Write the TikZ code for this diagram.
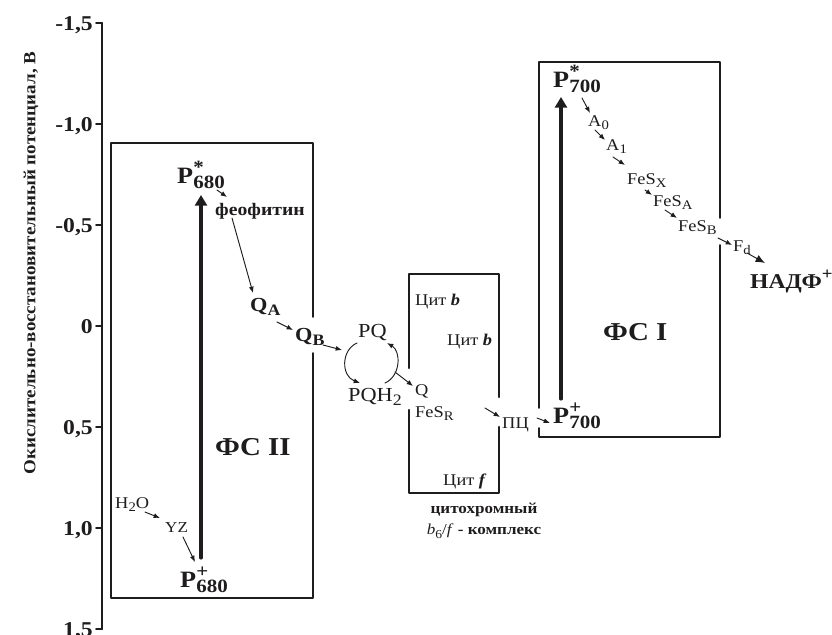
\documentclass[tikz,border=0pt]{standalone}
\usepackage{fontspec}
\setmainfont[FakeStretch=1.12]{Liberation Serif}
\usetikzlibrary{arrows.meta}

\makeatletter
\newcommand{\sbs}[1]{\raisebox{-0.22em}{\fontsize{\fpeval{0.8*\f@size}}{1}\selectfont #1}}
\newcommand{\sps}[1]{\raisebox{0.42em}{\fontsize{\fpeval{0.8*\f@size}}{1}\selectfont #1}}
\makeatother
\newcommand{\pig}[3]{#1\rlap{\sps{#2}}\sbs{#3}}

\begin{document}
\begin{tikzpicture}[
    >=Latex,
    line cap=round,
    line join=round,
    x=0.3mm,
    y=-0.3mm
]

% =========================================================
% Colors
% =========================================================
\definecolor{ink}{RGB}{30,28,29}

% =========================================================
% Styles
% =========================================================
\tikzset{
    boxline/.style={ink,line width=1.6pt},
    cytline/.style={ink,line width=2.0pt},
    axisline/.style={ink,line width=1.7pt},
    pump/.style={ink,line width=2.6pt,-{Triangle[length=3.2mm,width=3.6mm]}},
    etr/.style={ink,line width=0.8pt,-{Latex[length=1.9mm,width=1.5mm]}},
    lbl/.style={inner sep=0pt,anchor=base west,text=ink},
    pigm/.style={lbl,font=\fontsize{20}{20}\selectfont\bfseries},
    quin/.style={lbl,font=\fontsize{17}{17}\selectfont\bfseries},
    pool/.style={lbl,font=\fontsize{17}{17}\selectfont},
    carrier/.style={lbl,font=\fontsize{14}{14}\selectfont},
    psname/.style={lbl,font=\fontsize{22}{22}\selectfont\bfseries},
    ticklab/.style={inner sep=0pt,anchor=base east,text=ink,
        font=\fontsize{18}{18}\selectfont\bfseries}
}

\useasboundingbox (0,0) rectangle (832,634);

% =========================================================
% Potential axis
% =========================================================
\draw[axisline] (102,23) -- (102,629);
\foreach \k/\lab in {0/{-1,5},1/{-1,0},2/{-0,5},3/0,4/{0,5},5/{1,0},6/{1,5}}{
    \draw[axisline] (96,{23+101*\k}) -- (102,{23+101*\k});
    \node[ticklab] (tick\k) at (93,{30+101*\k}) {\lab};
}
\node[rotate=90,inner sep=0pt,text=ink,font=\fontsize{14.5}{14}\selectfont\bfseries]
    (ylab) at (31,263) {Окислительно-восстановительный потенциал, В};

% =========================================================
% Photosystem II
% =========================================================
\draw[boxline] (313,317) -- (313,143) -- (111,143) -- (111,598)
    -- (313,598) -- (313,353);
\node[psname] (PSII) at (215,455) {ФС II};

\node[pigm] (P680s) at (177,183) {\pig{P}{*}{680}};
\node[pigm] (P680p) at (180,587) {\pig{P}{+}{680}};
\node[lbl,font=\fontsize{15}{15}\selectfont\bfseries] (pheo) at (215,215) {феофитин};
\node[quin] (QA) at (250,311) {Q\sbs{A}};
\node[quin] (QB) at (295,341) {Q\sbs{B}};
\node[carrier] (H2O) at (115,508) {H\sbs{2}O};
\node[lbl,font=\fontsize{13}{13}\selectfont] (YZ) at (165,532) {YZ};

\draw[pump] ([shift={(21,-29)}]P680p.base west) -- ([shift={(24,12)}]P680s.base west);
\draw[etr] ([shift={(40,7)}]P680s.base west) -- ([shift={(12,-18)}]pheo.base west);
\draw[etr] ([shift={(17,3)}]pheo.base west) -- ([shift={(3,-18)}]QA.base west);
\draw[etr] ([shift={(27,11)}]QA.base west) -- ([shift={(-2,-11)}]QB.base west);
\draw[etr] ([shift={(30,4)}]H2O.base west) -- ([shift={(-5,-14)}]YZ.base west);
\draw[etr] ([shift={(18,5)}]YZ.base west) -- ([shift={(15,-25)}]P680p.base west);

% =========================================================
% Plastoquinone pool
% =========================================================
\node[pool] (PQ) at (358,337) {PQ};
\node[pool] (PQH) at (348,401) {PQH\sbs{2}};
\coordinate (cycin) at (342,350);
\coordinate (arcR) at (395,372);

\draw[etr] ([shift={(28,4)}]QB.base west) -- (cycin);
\draw[etr] ([shift={(-1,6)}]PQ.base west) .. controls (341,350) and (341,376)
    .. ([shift={(12,-18)}]PQH.base west);
\draw[etr] ([shift={(37,-18)}]PQH.base west) .. controls (401,376) and (401,351)
    .. ([shift={(29,6)}]PQ.base west);

% =========================================================
% Cytochrome b6/f complex
% =========================================================
\draw[cytline] (409,368) -- (409,274) -- (499,274) -- (499,397);
\draw[cytline] (499,427) -- (499,493) -- (409,493) -- (409,410);

\node[carrier] (cytb1) at (415,305) {Цит \textbf{\textit{b}}};
\node[carrier] (cytb2) at (447,345) {Цит \textbf{\textit{b}}};
\node[carrier] (cytf) at (443,485) {Цит \textbf{\textit{f}}};
\node[carrier] (Qc) at (415,395) {Q};
\node[carrier] (FeSR) at (415,417) {FeS\sbs{R}};
\node[carrier] (PC) at (502,428) {ПЦ};
\node[inner sep=0pt,anchor=north,align=center,text=ink,
    font=\fontsize{13}{18}\selectfont\bfseries] (cytname) at (484,503)
    {цитохромный\\\textmd{\textit{b}\sbs{6}/\textit{f}} - комплекс};
\coordinate (pcin) at (485,408);

\draw[etr] (arcR) -- ([shift={(-2,-9)}]Qc.base west);
\draw[etr] (pcin) -- ([shift={(-2,-11)}]PC.base west);

% =========================================================
% Photosystem I
% =========================================================
\draw[boxline] (539,408) -- (539,62) -- (720,62) -- (720,218);
\draw[boxline] (720,245) -- (720,437) -- (539,437) -- (539,428);
\node[psname] (PSI) at (603,340) {ФС I};

\node[pigm] (P700s) at (553,87) {\pig{P}{*}{700}};
\node[pigm] (P700p) at (553,423) {\pig{P}{+}{700}};
\node[carrier] (A0) at (588,126) {A\sbs{0}};
\node[carrier] (A1) at (606,150) {A\sbs{1}};
\node[carrier] (FeSX) at (627,184) {FeS\sbs{X}};
\node[carrier] (FeSA) at (653,206) {FeS\sbs{A}};
\node[carrier] (FeSB) at (678,231) {FeS\sbs{B}};
\node[carrier] (Fd) at (733,251) {F\sbs{d}};
\node[lbl,font=\fontsize{18}{18}\selectfont\bfseries] (NADP) at (750,288) {НАДФ\sps{+}};

\draw[pump] ([shift={(8,-24)}]P700p.base west) -- ([shift={(8,10)}]P700s.base west);
\draw[etr] ([shift={(35,-10)}]PC.base west) -- ([shift={(-3,0)}]P700p.base west);
\draw[etr] ([shift={(29,11)}]P700s.base west) -- ([shift={(2,-13)}]A0.base west);
\draw[etr] ([shift={(7,4)}]A0.base west) -- ([shift={(-1,-10)}]A1.base west);
\draw[etr] ([shift={(7,7)}]A1.base west) -- ([shift={(-2,-19)}]FeSX.base west);
\draw[etr] ([shift={(18,6)}]FeSX.base west) -- ([shift={(-1,-11)}]FeSA.base west);
\draw[etr] ([shift={(12,4)}]FeSA.base west) -- ([shift={(-1,-13)}]FeSB.base west);
\draw[etr] ([shift={(40,7)}]FeSB.base west) -- ([shift={(-1,-6)}]Fd.base west);
\draw[etr,-{Latex[length=2.8mm,width=2.3mm]}] ([shift={(14,2)}]Fd.base west)
    -- ([shift={(15,-25)}]NADP.base west);

\end{tikzpicture}
\end{document}
